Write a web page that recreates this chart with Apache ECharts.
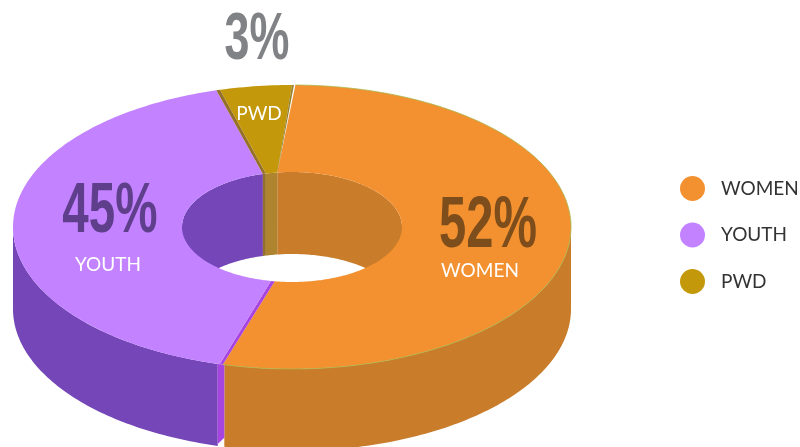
<!DOCTYPE html>
<html>
<head>
<meta charset="utf-8">
<style>html,body{margin:0;padding:0;background:#fff}#c{width:800px;height:447px}</style>
<script src="https://cdn.jsdelivr.net/npm/echarts@6/dist/echarts.min.js"></script>
</head>
<body>
<div id="c"></div>
<script>
const categories = ['WOMEN', 'YOUTH', 'PWD'];
// Figures printed on the chart
const printedPercents = [52, 45, 3];
// Share of the ring each slice actually occupies in the picture (its sweep reads a little differently from the printed figures)
const drawnShares = [53.9, 41.7, 4.4];

const topColors = ['#f39130', '#c382ff', '#c3980a'];
const wallColors = ['#c97c2a', '#7446b8', '#ae842e'];
const bigColors = ['#7d4d1b', '#5f3f8c', '#808285'];

const G = {cx: 292, cy: 227, rx: 279, ry: 142, ix: 110, iy: 55, depth: 82};
const startAngle = 0.7;

const cutA = startAngle;
const cutB = cutA + drawnShares[0] * 3.6;
const cutC = cutB + drawnShares[1] * 3.6;

const pt = (a, rx, ry, dy) => {
  const t = a * Math.PI / 180;
  return [G.cx + rx * Math.sin(t), G.cy - ry * Math.cos(t) + (dy || 0)];
};
const arc = (a, b, rx, ry, dy) => {
  const n = Math.max(2, Math.ceil(Math.abs(b - a)));
  const out = [];
  for (let i = 0; i <= n; i++) out.push(pt(a + (b - a) * i / n, rx, ry, dy));
  return out;
};
const poly = (points, fill, z2) => ({type: 'polygon', z2: z2 || 0, shape: {points}, style: {fill, stroke: null}});
const face = (oa, ob, ia, ib, fill, z2) =>
  poly(arc(oa, ob, G.rx, G.ry).concat(arc(ib, ia, G.ix, G.iy)), fill, z2);
const outerWall = (a, b, fill) =>
  poly(arc(a, b, G.rx, G.ry).concat(arc(b, a, G.rx, G.ry, G.depth)), fill);
const innerWall = (a, b, fill) =>
  poly(arc(a, b, G.ix, G.iy).concat(arc(b, a, G.ix, G.iy, G.depth)), fill);

const stripColorB = '#a845e0', stripColorC = '#94702a';

const walls = [
  () => [
    outerWall(90, cutB - 0.7, wallColors[0]),
    innerWall(cutA - 8.4, 90, wallColors[0])
  ],
  () => [
    outerWall(cutB + 0.7, 270, wallColors[1]),
    innerWall(270, cutC - 0.2, wallColors[1]),
    poly(arc(cutB - 0.7, cutB + 0.7, G.rx, G.ry).concat([
      pt(cutB + 0.7, G.rx, G.ry, G.depth - 2), pt(cutB - 0.7, G.rx, G.ry, G.depth - 9)
    ]), stripColorB)
  ],
  () => [
    innerWall(cutC - 0.2, cutC + 1.4, stripColorC),
    innerWall(cutC + 1.4, cutA + 351.6, wallColors[2])
  ]
];
const tops = [
  () => [
    face(cutA, cutB - 0.4, cutA - 8.4, 189, topColors[0])
  ],
  () => [
    face(cutB - 0.4, cutB + 0.3, 189, 191, stripColorB),
    face(cutB + 0.3, cutC - 0.6, 191, cutC - 0.2, topColors[1])
  ],
  () => [
    face(cutC - 0.6, cutC + 0.2, cutC - 0.2, cutC + 1.4, stripColorC),
    face(cutC + 0.2, cutA + 359.3, cutC + 1.4, cutA + 351.6, topColors[2]),
    face(cutA + 359.3, cutA + 359.7, cutA + 351.6, cutA + 351.7, '#97812e')
  ]
];

const bigSpots = [[488, 227, 0.68, 72], [110, 213, 0.68, 70], [257, 41, 0.68, 66]];
const smallSpots = [[480, 271], [108, 265], [259, 114]];
const FONT_NARROW = '"Liberation Sans Narrow","Liberation Sans"';

const labelEls = i => [
  {type: 'text', x: bigSpots[i][0], y: bigSpots[i][1], scaleX: bigSpots[i][2], z2: 10,
    style: {text: printedPercents[i] + '%', fill: bigColors[i], textAlign: 'center', textVerticalAlign: 'middle',
      font: 'bold ' + bigSpots[i][3] + 'px ' + FONT_NARROW}},
  {type: 'text', x: smallSpots[i][0], y: smallSpots[i][1], z2: 10,
    style: {text: categories[i], fill: '#ffffff', textAlign: 'center', textVerticalAlign: 'middle',
      font: '19px Lato'}}
];

const rim = {
  type: 'polyline', z2: 5, shape: {points: arc(cutA, cutB - 0.4, G.rx, G.ry)},
  style: {stroke: '#a8b54a', lineWidth: 0.8, fill: null}
};

const series = [];
categories.forEach((name, i) => {
  series.push({
    type: 'custom', name, coordinateSystem: 'none', z: 1, silent: true,
    itemStyle: {color: topColors[i]}, data: [printedPercents[i]],
    renderItem: () => ({type: 'group', children: walls[i]()})
  });
});
categories.forEach((name, i) => {
  series.push({
    type: 'custom', name, coordinateSystem: 'none', z: 2, silent: true,
    itemStyle: {color: topColors[i]}, data: [printedPercents[i]],
    renderItem: () => ({type: 'group', children: tops[i]().concat(i === 0 ? [rim] : [], labelEls(i))})
  });
});

const chart = echarts.init(document.getElementById('c'), null, {renderer: 'canvas'});
chart.setOption({
  animation: false,
  backgroundColor: '#ffffff',
  legend: {
    orient: 'vertical', left: 680, top: 176, icon: 'circle',
    itemWidth: 25, itemHeight: 25, itemGap: 21.5, padding: 0,
    selectedMode: false,
    data: categories,
    textStyle: {color: '#333333', fontSize: 19, fontFamily: 'Lato', padding: [1, 0, 0, 11]}
  },
  series
});
</script>
</body>
</html>
